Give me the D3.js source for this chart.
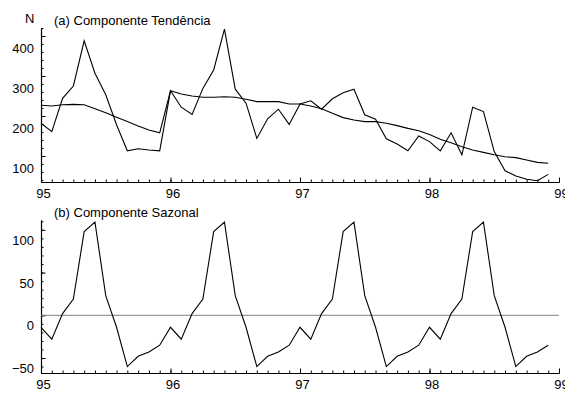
<!DOCTYPE html>
<html>
<head>
<meta charset="utf-8">
<script src="https://cdn.jsdelivr.net/npm/d3@7"></script>
<style>
body { margin: 0; background: #fff; }
text { font-family: "Liberation Sans", Arial, Helvetica, sans-serif; }
</style>
</head>
<body>
<div id="chart"></div>
<script>
// monthly series, jan 95 .. dec 98
let startYear = 95;
let yearTicks = [95, 96, 97, 98, 99];

let original = [
    182, 161, 244, 275, 388, 307, 253, 178, 113, 118, 115, 113,
    263, 222, 204, 269, 315, 417, 267, 232, 144, 193, 217, 179,
    230, 238, 217, 243, 258, 267, 203, 192, 143, 130, 113, 150,
    136, 113, 158, 103, 222, 211, 111, 63, 50, 42, 38, 54
];
let trend = [
    227, 225, 228, 229, 228, 218, 208, 197, 186, 175, 165, 158,
    263, 255, 250, 247, 247, 248, 247, 242, 236, 236, 236, 230,
    230, 225, 218, 207, 196, 190, 186, 186, 182, 176, 169, 163,
    154, 142, 133, 123, 115, 109, 103, 98, 96, 90, 84, 82
];
let seasonal = [
    -14, -28, 2, 19, 98, 109, 23, -14, -60, -48, -43, -35,
    -14, -28, 2, 19, 98, 109, 23, -14, -60, -48, -43, -35,
    -14, -28, 2, 19, 98, 109, 23, -14, -60, -48, -43, -35,
    -14, -28, 2, 19, 98, 109, 23, -14, -60, -48, -43, -35
];

let trendTicks = [100, 200, 300, 400];
let seasonalTicks = [-50, 0, 50, 100];

let width = 565, height = 395;
let svg = d3.select("#chart").append("svg")
    .attr("width", width)
    .attr("height", height);

let x = d3.scaleLinear().domain([95, 99]).range([41, 559]);
let monthTicks = d3.range(95, 99.001, 1 / 12);
let xOf = (d, i) => x(startYear + i / 12);

function panel(opts) {
    let y = d3.scaleLinear().domain(opts.domain).range([opts.bottom, opts.top]);
    let g = svg.append("g");

    // minor ticks
    g.append("g")
        .attr("transform", `translate(0,${opts.bottom})`)
        .call(d3.axisBottom(x).tickValues(monthTicks).tickSize(-2.5).tickSizeOuter(0).tickFormat(""));
    g.append("g")
        .attr("transform", `translate(${x(95)},0)`)
        .call(d3.axisLeft(y).tickValues(opts.minor).tickSize(-2.5).tickSizeOuter(0).tickFormat(""));

    // major ticks + labels
    let xa = g.append("g")
        .attr("transform", `translate(0,${opts.bottom})`)
        .call(d3.axisBottom(x).tickValues(yearTicks).tickSize(-4.5).tickSizeOuter(0).tickPadding(4).tickFormat(d3.format("d")));
    xa.selectAll("text").attr("dx", 2).attr("y", 7);

    let ya = g.append("g")
        .attr("transform", `translate(${x(95)},0)`)
        .call(d3.axisLeft(y).tickValues(opts.major).tickSize(-4.5).tickSizeOuter(0).tickPadding(7));
    ya.selectAll("text").attr("y", opts.labelShift);

    g.selectAll(".domain").attr("stroke", "#000").attr("stroke-width", 1.1);
    g.selectAll(".tick line").attr("stroke", "#000");
    g.selectAll("text").attr("font-size", 13).attr("fill", "#000")
        .style("font-family", "'Liberation Sans', Arial, sans-serif");

    g.append("text")
        .attr("x", 54)
        .attr("y", opts.top - 3)
        .attr("font-size", 13)
        .text(opts.title);

    let line = d3.line().x(xOf).y(d => y(d));
    opts.series.forEach(s => {
        g.append("path")
            .datum(s)
            .attr("d", line)
            .attr("fill", "none")
            .attr("stroke", "#000")
            .attr("stroke-width", 1.1)
            .attr("stroke-linejoin", "miter");
    });
    return {g, y};
}

let trendPanel = panel({
    domain: [35, 420], top: 28, bottom: 182,
    major: trendTicks, minor: d3.range(40, 421, 20),
    labelShift: 12,
    title: "(a) Componente Tendência",
    series: [trend, original]
});

svg.append("text")
    .attr("x", 25)
    .attr("y", 23)
    .attr("font-size", 13)
    .text("N");

let seasonPanel = panel({
    domain: [-67.5, 111.5], top: 220, bottom: 373,
    major: seasonalTicks, minor: d3.range(-60, 111, 10),
    labelShift: 10.5,
    title: "(b) Componente Sazonal",
    series: []
});

seasonPanel.g.append("line")
    .attr("x1", x(95)).attr("x2", x(99))
    .attr("y1", seasonPanel.y(0)).attr("y2", seasonPanel.y(0))
    .attr("stroke", "#808080")
    .attr("stroke-width", 1);

seasonPanel.g.append("path")
    .datum(seasonal)
    .attr("d", d3.line().x(xOf).y(d => seasonPanel.y(d)))
    .attr("fill", "none")
    .attr("stroke", "#000")
    .attr("stroke-width", 1.1);
</script>
</body>
</html>
